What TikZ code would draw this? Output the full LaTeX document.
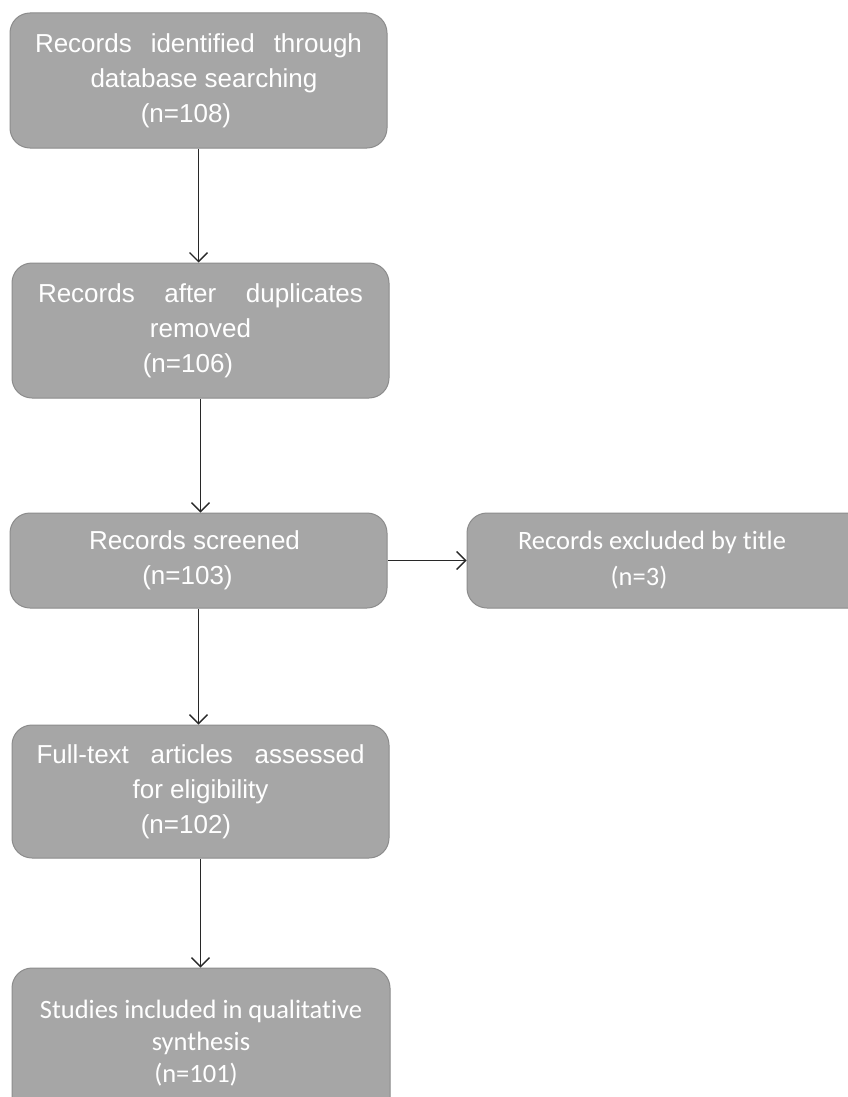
\documentclass[tikz,border=0pt]{standalone}
\usepackage{fontspec}
\setmainfont{Liberation Sans}
\newfontfamily\calibrifont[Ligatures=NoCommon]{Carlito}
\usepackage{tikz}
\usetikzlibrary{arrows.meta, positioning}

\definecolor{boxfill}{RGB}{166,166,166}
\definecolor{boxedge}{RGB}{140,140,140}
\definecolor{arrowgrey}{RGB}{40,40,40}

\tikzset{
  flowbox/.style={draw=boxedge, fill=boxfill, line width=1pt, rounded corners=20pt,
    text=white, align=center, inner sep=0pt, minimum width=377pt,
    font=\fontsize{26}{35}\selectfont},
  sidebox/.style={flowbox, font=\calibrifont\fontsize{26.5}{36}\selectfont},
  flowarrow/.style={-{Straight Barb[length=9pt,width=18pt,line width=1.3pt]}, draw=arrowgrey, line width=1.3pt}
}

\begin{document}
\begin{tikzpicture}[x=1pt, y=-1pt]
  \clip (0,0) rectangle (848,1097);
  \useasboundingbox (0,0) rectangle (848,1097);
  \fill[white] (0,0) rectangle (848,1097);

  % main column
  \node[flowbox, minimum height=135pt] (ident) at (198.5,80.5)
    {\makebox[327pt][s]{Records identified through}\\\hspace*{11pt}database searching\\(n=108)\hspace*{25pt}};
  \node[flowbox, minimum height=135pt] (dupl) at (200.5,330.5)
    {\makebox[325pt][s]{Records after duplicates}\\removed\hspace*{21pt}\\(n=106)\hspace*{25pt}};
  \node[flowbox, minimum height=95pt] (screen) at (198.5,560.5)
    {Records screened\hspace*{8pt}\\(n=103)\hspace*{22pt}};
  \node[flowbox, minimum height=133pt] (full) at (200.5,791.5)
    {\makebox[328pt][s]{Full-text articles assessed}\\for eligibility\hspace*{25pt}\\(n=102)\hspace*{29pt}};
  \node[sidebox, font=\calibrifont\fontsize{26.5}{32}\selectfont, minimum width=378pt, minimum height=150pt] (incl) at (201,1043)
    {Studies included in qualitative\\synthesis\hspace*{5pt}\\(n=101)\hspace*{10pt}};

  % excluded
  \node[sidebox, minimum width=403pt, minimum height=95pt] (excl) at (668.5,560.5)
    {Records excluded by title\hspace*{33pt}\\(n=3)\hspace*{59pt}};

  % arrows
  \draw[flowarrow] (ident.south) -- (ident.south |- dupl.north);
  \draw[flowarrow] (dupl.south) -- (dupl.south |- screen.north);
  \draw[flowarrow] (screen.south) -- (screen.south |- full.north);
  \draw[flowarrow] (full.south) -- (full.south |- incl.north);
  \draw[flowarrow] (screen.east) -- (excl.west);
\end{tikzpicture}
\end{document}
